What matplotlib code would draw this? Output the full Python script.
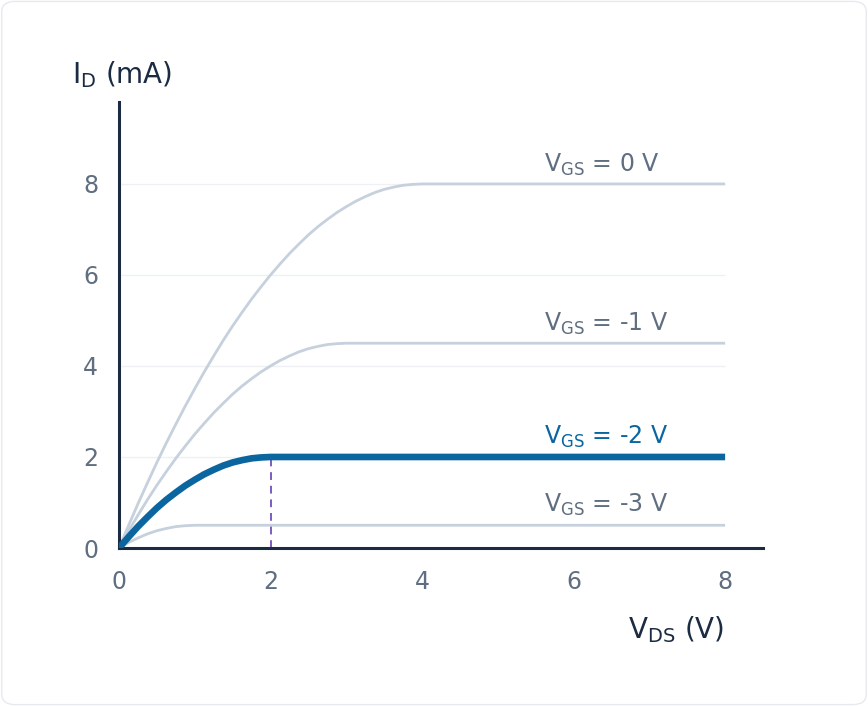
import matplotlib
matplotlib.use("Agg")
import matplotlib.pyplot as plt
from matplotlib.patches import FancyBboxPatch

# JFET output curves (V_DS in V, I_D in mA)
vds_0 = [0, 0.125, 0.25, 0.375, 0.5, 0.625, 0.75, 0.875, 1, 1.125, 1.25, 1.375,
         1.5, 1.625, 1.75, 1.875, 2, 2.125, 2.25, 2.375, 2.5, 2.625, 2.75, 2.875,
         3, 3.125, 3.25, 3.375, 3.5, 3.625, 3.75, 3.875, 4, 8]
id_0 = [0, 0.49, 0.97, 1.43, 1.88, 2.31, 2.72, 3.12, 3.5, 3.87, 4.22, 4.56,
        4.88, 5.18, 5.47, 5.74, 6, 6.24, 6.47, 6.68, 6.88, 7.06, 7.22, 7.37,
        7.5, 7.62, 7.72, 7.81, 7.88, 7.93, 7.97, 7.99, 8, 8]

vds_1 = [0, 0.125, 0.25, 0.375, 0.5, 0.625, 0.75, 0.875, 1, 1.125, 1.25, 1.375,
         1.5, 1.625, 1.75, 1.875, 2, 2.125, 2.25, 2.375, 2.5, 2.625, 2.75, 2.875,
         3, 8]
id_1 = [0, 0.37, 0.72, 1.06, 1.38, 1.68, 1.97, 2.24, 2.5, 2.74, 2.97, 3.18,
        3.38, 3.56, 3.72, 3.87, 4, 4.12, 4.22, 4.31, 4.38, 4.43, 4.47, 4.49,
        4.5, 4.5]

vds_2 = [0, 0.125, 0.25, 0.375, 0.5, 0.625, 0.75, 0.875, 1, 1.125, 1.25, 1.375,
         1.5, 1.625, 1.75, 1.875, 2, 8]
id_2 = [0, 0.24, 0.47, 0.68, 0.88, 1.06, 1.22, 1.37, 1.5, 1.62, 1.72, 1.81,
        1.88, 1.93, 1.97, 1.99, 2, 2]

vds_3 = [0, 0.125, 0.25, 0.375, 0.5, 0.625, 0.75, 0.875, 1, 8]
id_3 = [0, 0.12, 0.22, 0.31, 0.38, 0.43, 0.47, 0.49, 0.5, 0.5]

labels = [r'V$_{\mathrm{GS}}$ = 0 V', r'V$_{\mathrm{GS}}$ = -1 V',
          r'V$_{\mathrm{GS}}$ = -2 V', r'V$_{\mathrm{GS}}$ = -3 V']
label_x = 5.61
label_y = [8.27, 4.78, 2.30, 0.80]

xticks = [0, 2, 4, 6, 8]
yticks = [0, 2, 4, 6, 8]
grid_y = [2, 4, 6, 8]
vsat = 2  # pinch-off point of the highlighted curve
isat = 2

light = '#c6d1dd'
blue = '#0b66a0'
navy = '#1b2b42'
gray = '#5f6e80'

fig = plt.figure(figsize=(8.68, 7.06), dpi=100, facecolor='white')
card = FancyBboxPatch((0.002, 0.002), 0.996, 0.996, transform=fig.transFigure,
                      boxstyle='round,pad=0,rounding_size=0.015',
                      facecolor='white', edgecolor='#e6e9ee', lw=1, zorder=-10)
fig.patches.append(card)

ax = fig.add_axes([119 / 868, 1 - 548 / 706, 644 / 868, 446 / 706])
ax.set_facecolor('none')
ax.set_xlim(0, 8.5)
ax.set_ylim(0, 9.8)

ax.hlines(grid_y, 0.03, 8, color='#eef0f3', lw=1, zorder=1)

ax.plot(vds_0, id_0, color=light, lw=2, zorder=2, solid_capstyle='butt')
ax.plot(vds_1, id_1, color=light, lw=2, zorder=2, solid_capstyle='butt')
ax.plot(vds_3, id_3, color=light, lw=2, zorder=2, solid_capstyle='butt')
ax.plot(vds_2, id_2, color=blue, lw=4.8, zorder=3, solid_capstyle='butt')
ax.plot([vsat, vsat], [0, isat], color='#7b5cc0', lw=1.4, ls=(0, (4, 3)), zorder=2)

for i, (txt, y) in enumerate(zip(labels, label_y)):
    ax.text(label_x, y, txt, fontsize=17, va='baseline', ha='left',
            color=blue if i == 2 else gray, zorder=4)

for s in ['top', 'right']:
    ax.spines[s].set_visible(False)
for s in ['left', 'bottom']:
    ax.spines[s].set_color(navy)
    ax.spines[s].set_linewidth(2.2)

ax.set_xticks(xticks)
ax.set_yticks(yticks)
ax.tick_params(axis='both', length=0, labelsize=17, labelcolor=gray)
ax.tick_params(axis='x', pad=16)
ax.tick_params(axis='y', pad=15)

fig.text(72 / 868, 1 - 83 / 706, r'I$_{\mathrm{D}}$ (mA)', fontsize=20,
         color=navy, va='baseline', ha='left')
fig.text(724 / 868, 1 - 638 / 706, r'V$_{\mathrm{DS}}$ (V)', fontsize=20,
         color=navy, va='baseline', ha='right')

fig.savefig('out.png', dpi=100, facecolor='white')
